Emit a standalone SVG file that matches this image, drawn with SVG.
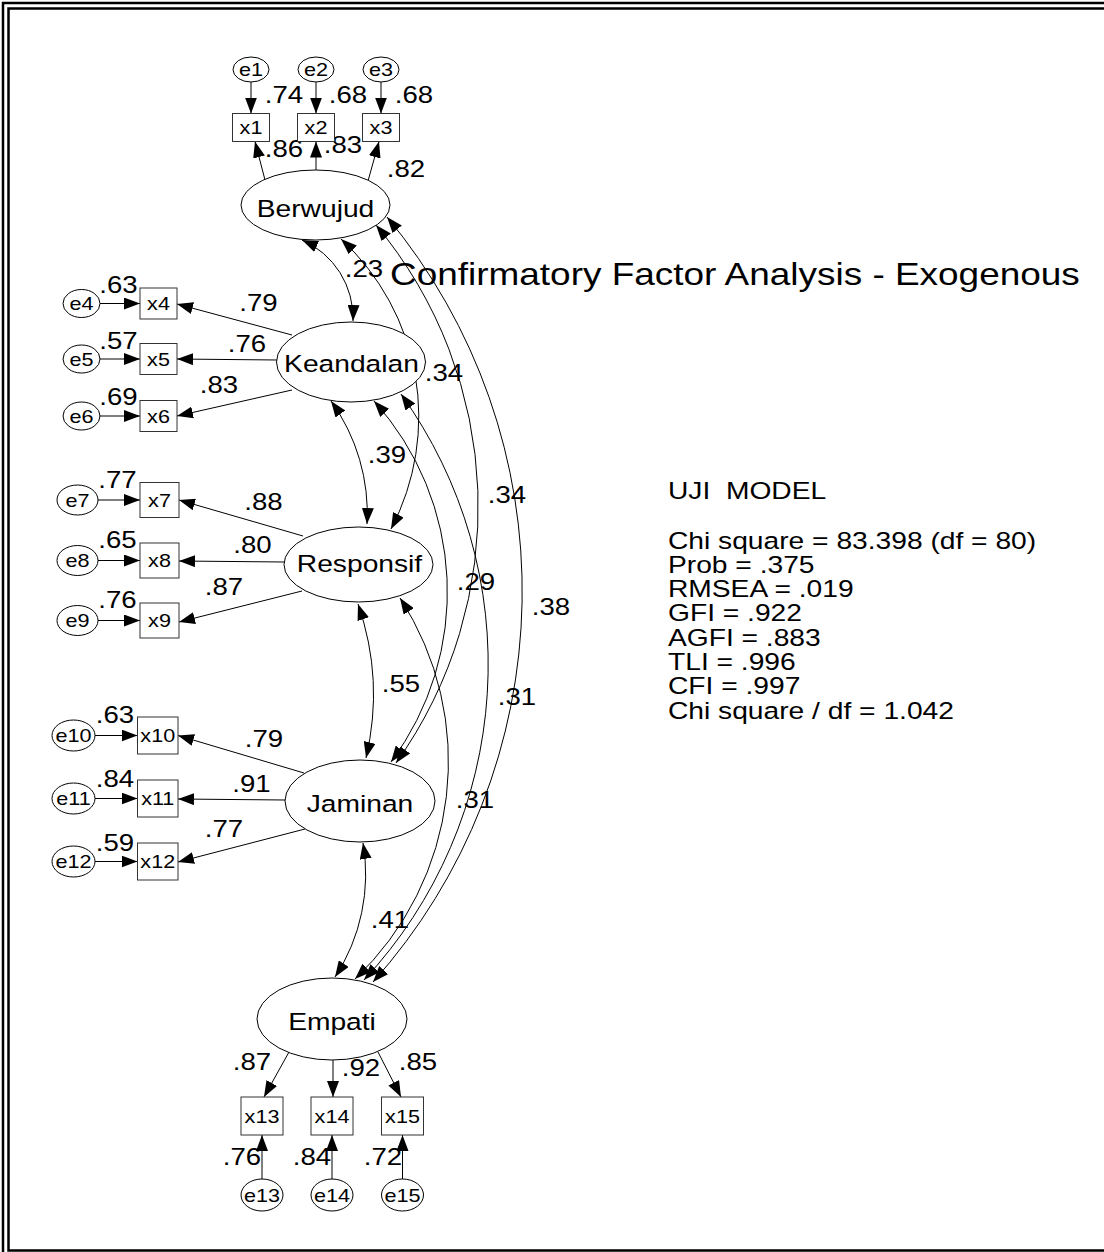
<svg xmlns="http://www.w3.org/2000/svg" width="1104" height="1252" viewBox="0 0 1104 1252">
<style>
text { font-family: "Liberation Sans", Arial, sans-serif; fill: #000; }
.lat { fill: #fff; stroke: #000; stroke-width: 1; }
.err { fill: #fff; stroke: #000; stroke-width: 1; }
.box { fill: #fff; stroke: #333; stroke-width: 1; }
.nm { font-size: 23.5px; text-anchor: middle; }
.sm { font-size: 18px; text-anchor: middle; }
.num { font-size: 23px; text-anchor: middle; }
.info { font-size: 23.5px; }
.title { font-size: 30.8px; }
.ln { fill: none; stroke: #000; stroke-width: 1; marker-end: url(#ah); }
.cov { fill: none; stroke: #000; stroke-width: 1; marker-start: url(#ah); marker-end: url(#ah); }
.frame { fill: none; stroke: #000; stroke-width: 2.5; }
</style>
<defs>
<marker id="ah" viewBox="0 0 16 12" refX="16" refY="6" markerWidth="16" markerHeight="12" markerUnits="userSpaceOnUse" orient="auto-start-reverse">
<path d="M0,0 L16,6 L0,12 z" fill="#000"/>
</marker>
</defs>
<rect width="1104" height="1252" fill="#fff"/>
<g id="frame">
<path class="frame" d="M3,1252 V3 H1104"/>
<path class="frame" d="M1104,8.5 H8.5 V1250.5 H1104"/>
</g>

<g id="connectors">
<path class="ln" d="M251,82 V113.5"/>
<path class="ln" d="M316,82 V113.5"/>
<path class="ln" d="M381,82 V113.5"/>
<path class="ln" d="M100,303.5 H140"/>
<path class="ln" d="M100,359 H140"/>
<path class="ln" d="M100,416 H140"/>
<path class="ln" d="M98,500 H140"/>
<path class="ln" d="M98,560.5 H140"/>
<path class="ln" d="M98,620.5 H140"/>
<path class="ln" d="M95,735.5 H137.5"/>
<path class="ln" d="M95,798.5 H137.5"/>
<path class="ln" d="M95,861.5 H137.5"/>
<path class="ln" d="M262,1179 V1135"/>
<path class="ln" d="M332,1179 V1135"/>
<path class="ln" d="M402.5,1179 V1135"/>
<path class="ln" d="M265,180 L255,141.5"/>
<path class="ln" d="M316,170 V141.5"/>
<path class="ln" d="M368,181 L379,141.5"/>
<path class="ln" d="M292,335 L177,304"/>
<path class="ln" d="M277,360 L177,359"/>
<path class="ln" d="M292,390 L177,416"/>
<path class="ln" d="M303,536 L179,500"/>
<path class="ln" d="M284,562 L179,561"/>
<path class="ln" d="M302,591 L179,622"/>
<path class="ln" d="M304,773 L178,735.5"/>
<path class="ln" d="M285,800 L178,799"/>
<path class="ln" d="M305,829 L178,862"/>
<path class="ln" d="M289,1052 L264,1097"/>
<path class="ln" d="M333,1060 V1097"/>
<path class="ln" d="M378,1052 L401,1097"/>
<path class="cov" d="M302,240 A85,85 0 0 1 353,321"/>
<path class="cov" d="M341,239 A241.5,241.5 0 0 1 391,529"/>
<path class="cov" d="M376,225 A440,440 0 0 1 396,763"/>
<path class="cov" d="M387,217 A586,586 0 0 1 373,982"/>
<path class="cov" d="M331,401 A192,192 0 0 1 367,524"/>
<path class="cov" d="M374,401 A285,285 0 0 1 391,762"/>
<path class="cov" d="M401,394 A463,463 0 0 1 364,980"/>
<path class="cov" d="M358,604 A276,276 0 0 1 366,758"/>
<path class="cov" d="M400,598 A300,300 0 0 1 355,979"/>
<path class="cov" d="M363,843 A187,187 0 0 1 335,977"/>
</g>

<g id="path-labels">
<text class="num" transform="translate(284,103) scale(1.2,1)">.74</text>
<text class="num" transform="translate(348,103) scale(1.2,1)">.68</text>
<text class="num" transform="translate(414,103) scale(1.2,1)">.68</text>
<text class="num" transform="translate(284,157) scale(1.2,1)">.86</text>
<text class="num" transform="translate(343,153) scale(1.2,1)">.83</text>
<text class="num" transform="translate(406,177) scale(1.2,1)">.82</text>
<text class="num" transform="translate(118.5,293) scale(1.2,1)">.63</text>
<text class="num" transform="translate(118.5,349) scale(1.2,1)">.57</text>
<text class="num" transform="translate(118.5,405) scale(1.2,1)">.69</text>
<text class="num" transform="translate(117.5,488) scale(1.2,1)">.77</text>
<text class="num" transform="translate(117.5,548) scale(1.2,1)">.65</text>
<text class="num" transform="translate(117.5,608) scale(1.2,1)">.76</text>
<text class="num" transform="translate(115,723) scale(1.2,1)">.63</text>
<text class="num" transform="translate(115,787) scale(1.2,1)">.84</text>
<text class="num" transform="translate(115,851) scale(1.2,1)">.59</text>
<text class="num" transform="translate(258.5,311) scale(1.2,1)">.79</text>
<text class="num" transform="translate(247,352) scale(1.2,1)">.76</text>
<text class="num" transform="translate(219,393) scale(1.2,1)">.83</text>
<text class="num" transform="translate(263.5,510) scale(1.2,1)">.88</text>
<text class="num" transform="translate(252.5,553) scale(1.2,1)">.80</text>
<text class="num" transform="translate(224,595) scale(1.2,1)">.87</text>
<text class="num" transform="translate(264,747) scale(1.2,1)">.79</text>
<text class="num" transform="translate(251.5,792) scale(1.2,1)">.91</text>
<text class="num" transform="translate(224,837) scale(1.2,1)">.77</text>
<text class="num" transform="translate(252,1070) scale(1.2,1)">.87</text>
<text class="num" transform="translate(361,1076) scale(1.2,1)">.92</text>
<text class="num" transform="translate(418,1070) scale(1.2,1)">.85</text>
<text class="num" transform="translate(242,1165) scale(1.2,1)">.76</text>
<text class="num" transform="translate(312,1165) scale(1.2,1)">.84</text>
<text class="num" transform="translate(383,1165) scale(1.2,1)">.72</text>
<text class="num" transform="translate(364,277) scale(1.2,1)">.23</text>
<text class="num" transform="translate(444,381) scale(1.2,1)">.34</text>
<text class="num" transform="translate(387,463) scale(1.2,1)">.39</text>
<text class="num" transform="translate(507,503) scale(1.2,1)">.34</text>
<text class="num" transform="translate(476,590) scale(1.2,1)">.29</text>
<text class="num" transform="translate(551,615) scale(1.2,1)">.38</text>
<text class="num" transform="translate(401,692) scale(1.2,1)">.55</text>
<text class="num" transform="translate(517,705) scale(1.2,1)">.31</text>
<text class="num" transform="translate(475,808) scale(1.2,1)">.31</text>
<text class="num" transform="translate(390,928) scale(1.2,1)">.41</text>
</g>

<g id="Berwujud"><ellipse class="lat" cx="315.5" cy="205" rx="74.5" ry="35"/><text class="nm" transform="translate(315.5,217) scale(1.2,1)">Berwujud</text></g>
<g id="Keandalan"><ellipse class="lat" cx="351" cy="362" rx="74.5" ry="40"/><text class="nm" transform="translate(351.5,372) scale(1.2,1)">Keandalan</text></g>
<g id="Responsif"><ellipse class="lat" cx="358.5" cy="564.5" rx="74.5" ry="37.5"/><text class="nm" transform="translate(359.5,572) scale(1.2,1)">Responsif</text></g>
<g id="Jaminan"><ellipse class="lat" cx="360" cy="801" rx="75" ry="41"/><text class="nm" transform="translate(360,812) scale(1.2,1)">Jaminan</text></g>
<g id="Empati"><ellipse class="lat" cx="332" cy="1019" rx="75" ry="41"/><text class="nm" transform="translate(332,1030) scale(1.2,1)">Empati</text></g>

<g id="e1"><ellipse class="err" cx="251" cy="69.5" rx="18" ry="12.5"/><text class="sm" transform="translate(251,76) scale(1.2,1)">e1</text></g>
<g id="e2"><ellipse class="err" cx="316" cy="69.5" rx="18" ry="12.5"/><text class="sm" transform="translate(316,76) scale(1.2,1)">e2</text></g>
<g id="e3"><ellipse class="err" cx="381" cy="69.5" rx="18" ry="12.5"/><text class="sm" transform="translate(381,76) scale(1.2,1)">e3</text></g>
<g id="x1"><rect class="box" x="232.5" y="113.5" width="37" height="28"/><text class="sm" transform="translate(251,134) scale(1.2,1)">x1</text></g>
<g id="x2"><rect class="box" x="297.5" y="113.5" width="37" height="28"/><text class="sm" transform="translate(316,134) scale(1.2,1)">x2</text></g>
<g id="x3"><rect class="box" x="362.5" y="113.5" width="37" height="28"/><text class="sm" transform="translate(381,134) scale(1.2,1)">x3</text></g>

<g id="e4"><ellipse class="err" cx="81.5" cy="303.5" rx="18.5" ry="14"/><text class="sm" transform="translate(81.5,310) scale(1.2,1)">e4</text></g>
<g id="e5"><ellipse class="err" cx="81.5" cy="359" rx="18.5" ry="14"/><text class="sm" transform="translate(81.5,365.5) scale(1.2,1)">e5</text></g>
<g id="e6"><ellipse class="err" cx="81.5" cy="416" rx="18.5" ry="14"/><text class="sm" transform="translate(81.5,422.5) scale(1.2,1)">e6</text></g>
<g id="x4"><rect class="box" x="140" y="288" width="37" height="31"/><text class="sm" transform="translate(158.5,310) scale(1.2,1)">x4</text></g>
<g id="x5"><rect class="box" x="140" y="343.5" width="37" height="31"/><text class="sm" transform="translate(158.5,365.5) scale(1.2,1)">x5</text></g>
<g id="x6"><rect class="box" x="140" y="400.5" width="37" height="31"/><text class="sm" transform="translate(158.5,422.5) scale(1.2,1)">x6</text></g>

<g id="e7"><ellipse class="err" cx="77.5" cy="500" rx="20.5" ry="15"/><text class="sm" transform="translate(77.5,506.5) scale(1.2,1)">e7</text></g>
<g id="e8"><ellipse class="err" cx="77.5" cy="560.5" rx="20.5" ry="15"/><text class="sm" transform="translate(77.5,567) scale(1.2,1)">e8</text></g>
<g id="e9"><ellipse class="err" cx="77.5" cy="620.5" rx="20.5" ry="15"/><text class="sm" transform="translate(77.5,627) scale(1.2,1)">e9</text></g>
<g id="x7"><rect class="box" x="140" y="482.5" width="39" height="35"/><text class="sm" transform="translate(159.5,506.5) scale(1.2,1)">x7</text></g>
<g id="x8"><rect class="box" x="140" y="543" width="39" height="35"/><text class="sm" transform="translate(159.5,567) scale(1.2,1)">x8</text></g>
<g id="x9"><rect class="box" x="140" y="603" width="39" height="35"/><text class="sm" transform="translate(159.5,627) scale(1.2,1)">x9</text></g>

<g id="e10"><ellipse class="err" cx="73.5" cy="735.5" rx="21.5" ry="15.5"/><text class="sm" transform="translate(73.5,742) scale(1.2,1)">e10</text></g>
<g id="e11"><ellipse class="err" cx="73.5" cy="798.5" rx="21.5" ry="15.5"/><text class="sm" transform="translate(73.5,805) scale(1.2,1)">e11</text></g>
<g id="e12"><ellipse class="err" cx="73.5" cy="861.5" rx="21.5" ry="15.5"/><text class="sm" transform="translate(73.5,868) scale(1.2,1)">e12</text></g>
<g id="x10"><rect class="box" x="137.5" y="717" width="40.5" height="37"/><text class="sm" transform="translate(157.75,742) scale(1.2,1)">x10</text></g>
<g id="x11"><rect class="box" x="137.5" y="780" width="40.5" height="37"/><text class="sm" transform="translate(157.75,805) scale(1.2,1)">x11</text></g>
<g id="x12"><rect class="box" x="137.5" y="843" width="40.5" height="37"/><text class="sm" transform="translate(157.75,868) scale(1.2,1)">x12</text></g>

<g id="x13"><rect class="box" x="241" y="1097" width="42" height="38"/><text class="sm" transform="translate(262,1122.5) scale(1.2,1)">x13</text></g>
<g id="x14"><rect class="box" x="311" y="1097" width="42" height="38"/><text class="sm" transform="translate(332,1122.5) scale(1.2,1)">x14</text></g>
<g id="x15"><rect class="box" x="381.5" y="1097" width="42" height="38"/><text class="sm" transform="translate(402.5,1122.5) scale(1.2,1)">x15</text></g>
<g id="e13"><ellipse class="err" cx="262" cy="1195" rx="21" ry="16"/><text class="sm" transform="translate(262,1201.5) scale(1.2,1)">e13</text></g>
<g id="e14"><ellipse class="err" cx="332" cy="1195" rx="21" ry="16"/><text class="sm" transform="translate(332,1201.5) scale(1.2,1)">e14</text></g>
<g id="e15"><ellipse class="err" cx="402.5" cy="1195" rx="21" ry="16"/><text class="sm" transform="translate(402.5,1201.5) scale(1.2,1)">e15</text></g>

<g id="title">
<text class="title" transform="translate(390,285) scale(1.2,1)">Confirmatory Factor Analysis - Exogenous</text>
</g>
<g id="uji-model">
<text class="info" xml:space="preserve" transform="translate(668,498.5) scale(1.2,1)">UJI  MODEL</text>
<text class="info" transform="translate(668,548.5) scale(1.2,1)">Chi square = 83.398 (df = 80)</text>
<text class="info" transform="translate(668,572.8) scale(1.2,1)">Prob = .375</text>
<text class="info" transform="translate(668,597) scale(1.2,1)">RMSEA = .019</text>
<text class="info" transform="translate(668,621.4) scale(1.2,1)">GFI = .922</text>
<text class="info" transform="translate(668,645.7) scale(1.2,1)">AGFI = .883</text>
<text class="info" transform="translate(668,670) scale(1.2,1)">TLI = .996</text>
<text class="info" transform="translate(668,694.3) scale(1.2,1)">CFI = .997</text>
<text class="info" transform="translate(668,718.6) scale(1.2,1)">Chi square / df = 1.042</text>
</g>
</svg>
